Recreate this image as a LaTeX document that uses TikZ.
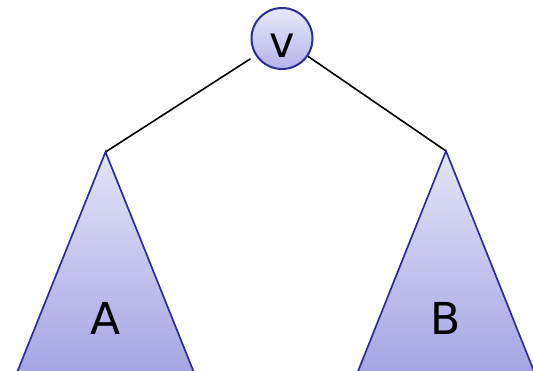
\documentclass[tikz,border=0pt]{standalone}
\usepackage{fontspec}
\setmainfont{DejaVu Sans}
\usepackage{tikz}
\usetikzlibrary{positioning, calc}

\definecolor{treetop}{RGB}{228,228,248}
\definecolor{treebot}{RGB}{163,163,228}
\definecolor{roottop}{RGB}{232,232,250}
\definecolor{rootbot}{RGB}{180,180,235}
\definecolor{treeline}{RGB}{45,45,150}

\begin{document}
\begin{tikzpicture}[
    x=1pt, y=-1pt,
    rootnode/.style={circle, draw=treeline, line width=2pt, top color=roottop, bottom color=rootbot, minimum size=61pt, inner sep=0pt, text height=38pt, text depth=0pt, font=\fontsize{43}{50}\selectfont},
    subtree/.style={draw=treeline, line width=1.7pt, top color=treetop, bottom color=treebot},
    treelabel/.style={font=\fontsize{44}{50}\selectfont},
    edge/.style={black, line width=1.6pt}
]
\useasboundingbox (0,0) rectangle (533,371);
\clip (0,0) rectangle (533,371);

% Wurzel
\node[rootnode] (v) at (282,38.5) {v};

% Teilbaeume
\coordinate (topA) at (105.5,152);
\coordinate (topB) at (446,151);
\path[subtree] (topA) -- ($(topA)+(-91.5,228)$) -- ($(topA)+(91.5,228)$) -- cycle;
\path[subtree] (topB) -- ($(topB)+(-91.5,229)$) -- ($(topB)+(91.5,229)$) -- cycle;

\node[treelabel] (labelA) at (105.5,318.5) {A};
\node[treelabel] (labelB) at (446,318) {B};

% Kanten
\draw[edge, shorten <=6pt] (v) -- (topA);
\draw[edge] (v) -- (topB);

\end{tikzpicture}
\end{document}
